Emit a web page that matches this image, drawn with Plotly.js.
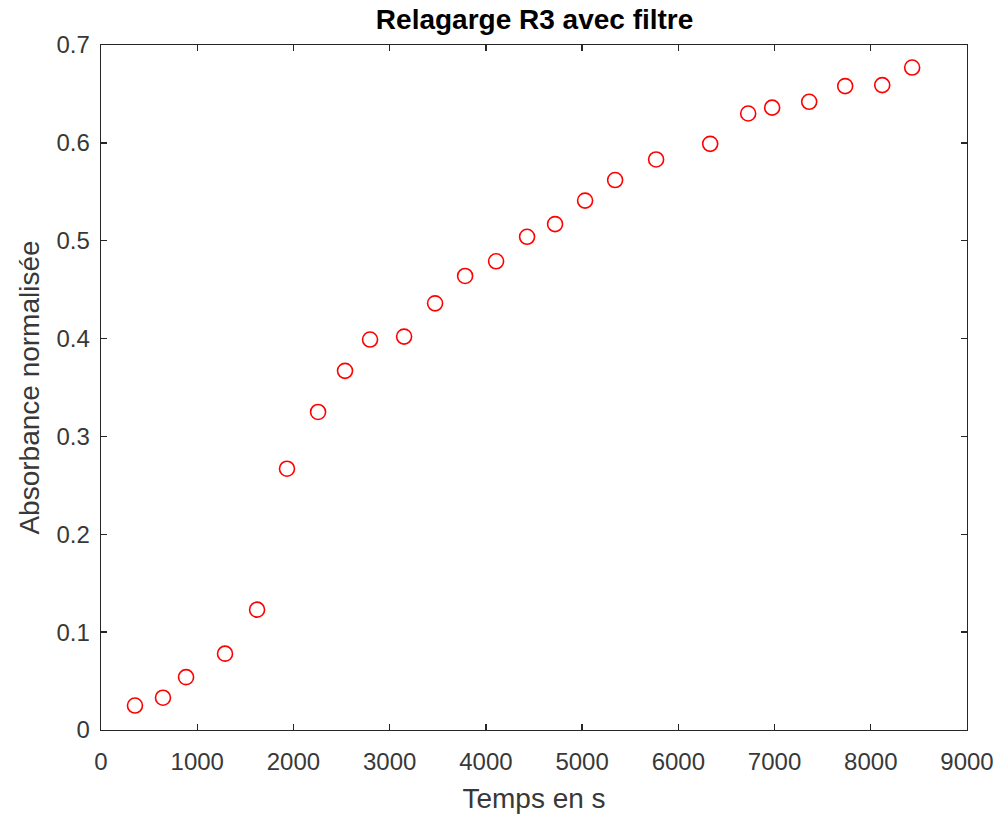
<!DOCTYPE html>
<html><head><meta charset="utf-8">
<script src="https://cdn.plot.ly/plotly-3.0.1.min.js"></script>
<style>body{margin:0;background:#fff}#chart{width:1003px;height:815px}</style>
</head><body><div id="chart"></div>
<script>
const timeS = [353, 644, 884, 1289, 1622, 1933, 2256, 2536, 2796, 3150, 3472, 3784, 4106, 4428, 4719, 5031, 5343, 5769, 6331, 6726, 6975, 7360, 7734, 8119, 8430];
const absorbance = [0.025, 0.033, 0.054, 0.078, 0.123, 0.267, 0.325, 0.367, 0.399, 0.402, 0.436, 0.464, 0.479, 0.504, 0.517, 0.541, 0.562, 0.583, 0.599, 0.630, 0.636, 0.642, 0.658, 0.659, 0.677];
const xTicks = [0,1000,2000,3000,4000,5000,6000,7000,8000,9000];
const yTicks = [0,0.1,0.2,0.3,0.4,0.5,0.6,0.7];
const yTickText = ['0','0.1','0.2','0.3','0.4','0.5','0.6','0.7'];

const axisCol = '#262626';
const labelCol = '#383838';
const font = {family: 'Liberation Sans, Arial, sans-serif', color: labelCol};
const axisCommon = {
  showline: true, mirror: 'ticks', linecolor: axisCol, linewidth: 1.3,
  ticks: 'inside', ticklen: 6, tickwidth: 1.3, tickcolor: axisCol,
  showgrid: false, zeroline: false,
  tickfont: {family: font.family, size: 24, color: labelCol}
};
Plotly.newPlot('chart', [{
  x: timeS, y: absorbance, type: 'scatter', mode: 'markers',
  marker: {symbol: 'circle-open', size: 15, color: '#ff0000', line: {width: 1.6, color: '#ff0000'}}
}], {
  width: 1003, height: 815,
  margin: {l: 101, r: 36, t: 45, b: 85},
  paper_bgcolor: '#fff', plot_bgcolor: '#fff',
  showlegend: false,
  font: font,
  title: {text: '<b>Relagarge R3 avec filtre</b>', x: 0.533, xanchor: 'center', y: 0.976, yanchor: 'middle',
          font: {family: font.family, size: 28, color: '#000'}},
  xaxis: Object.assign({}, axisCommon, {range: [0, 9000], tickvals: xTicks, ticktext: xTicks.map(String),
    ticklabelstandoff: 10,
    title: {text: 'Temps en s', font: {family: font.family, size: 28, color: labelCol}, standoff: 14}}),
  yaxis: Object.assign({}, axisCommon, {range: [0, 0.7], tickvals: yTicks, ticktext: yTickText,
    ticklabelstandoff: 5,
    title: {text: 'Absorbance normalisée', font: {family: font.family, size: 28, color: labelCol}, standoff: 8}})
}, {displayModeBar: false, staticPlot: true});
</script></body></html>
